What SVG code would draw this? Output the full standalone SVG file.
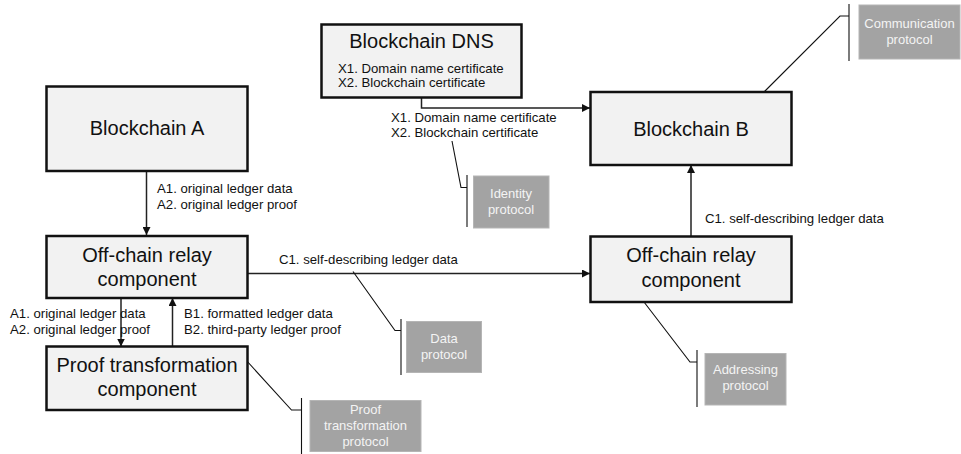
<svg xmlns="http://www.w3.org/2000/svg" width="961" height="454" viewBox="0 0 961 454">
  <defs>
    <marker id="arrow" viewBox="0 0 10 10" refX="10" refY="5" markerWidth="8" markerHeight="8" markerUnits="userSpaceOnUse" orient="auto">
      <path d="M0,0 L10,5 L0,10 Z" fill="#111"/>
    </marker>
    <style>
      .box { fill: #f2f2f2; stroke: #111; stroke-width: 2.5; }
      .proto { fill: #a3a3a3; stroke: #b5b5b5; stroke-width: 1; }
      .title { font-family: "Liberation Sans", Arial, sans-serif; font-size: 20px; fill: #111; text-anchor: middle; }
      .label { font-family: "Liberation Sans", Arial, sans-serif; font-size: 13.2px; fill: #111; }
      .ptext { font-family: "Liberation Sans", Arial, sans-serif; font-size: 13px; fill: #f4f4f4; text-anchor: middle; }
      .flow { fill: none; stroke: #222; stroke-width: 1.5; }
      .lead { fill: none; stroke: #111; stroke-width: 1.1; }
    </style>
  </defs>
  <rect width="961" height="454" fill="#ffffff"/>

  <!-- connectors -->
  <g id="connectors">
    <path class="flow" d="M146.5,171 V235" marker-end="url(#arrow)"/>
    <path class="flow" d="M121,298 V346.5" marker-end="url(#arrow)"/>
    <path class="flow" d="M172.5,346.5 V298" marker-end="url(#arrow)"/>
    <path class="flow" d="M248,273.5 H590" marker-end="url(#arrow)"/>
    <path class="flow" d="M691,236.5 V165" marker-end="url(#arrow)"/>
    <path class="flow" d="M421.5,98 V108 H590" marker-end="url(#arrow)"/>

    <!-- flow labels -->
    <text class="label" x="157" y="193">A1. original ledger data</text>
    <text class="label" x="157" y="209">A2. original ledger proof</text>
    <text class="label" x="10" y="318">A1. original ledger data</text>
    <text class="label" x="10" y="334">A2. original ledger proof</text>
    <text class="label" x="184" y="318">B1. formatted ledger data</text>
    <text class="label" x="184" y="334">B2. third-party ledger proof</text>
    <text class="label" x="279" y="264">C1. self-describing ledger data</text>
    <text class="label" x="705" y="223">C1. self-describing ledger data</text>
    <text class="label" x="391" y="122">X1. Domain name certificate</text>
    <text class="label" x="391" y="137">X2. Blockchain certificate</text>

    <!-- protocol leaders -->
    <path class="lead" d="M764,92 L840,16 H849 M849,4 V61"/>
    <path class="lead" d="M452,141 L461,187.5 H467 M467,175 V227"/>
    <path class="lead" d="M353,271.5 L395,330.5 H401 M401,319 V375"/>
    <path class="lead" d="M644,302 L690,362 H697 M697,350 V407"/>
    <path class="lead" d="M235,348 L291.5,410 H301.5 M301.5,398 V454"/>
  </g>

  <!-- nodes -->
  <g id="blockchain-dns">
    <rect class="box" x="321.5" y="24.5" width="200" height="73"/>
    <text class="title" x="421.5" y="48">Blockchain DNS</text>
    <text class="label" x="338" y="72.5">X1. Domain name certificate</text>
    <text class="label" x="338" y="87">X2. Blockchain certificate</text>
  </g>

  <g id="blockchain-a">
    <rect class="box" x="46.5" y="86.5" width="201" height="84.5"/>
    <text class="title" x="147" y="134.5">Blockchain A</text>
  </g>

  <g id="blockchain-b">
    <rect class="box" x="590.5" y="92" width="201" height="73"/>
    <text class="title" x="691" y="136">Blockchain B</text>
  </g>

  <g id="relay-a">
    <rect class="box" x="46.5" y="236" width="201" height="62"/>
    <text class="title" x="147" y="262">Off-chain relay</text>
    <text class="title" x="147" y="286">component</text>
  </g>

  <g id="relay-b">
    <rect class="box" x="590.5" y="236.5" width="201" height="65.5"/>
    <text class="title" x="691" y="262">Off-chain relay</text>
    <text class="title" x="691" y="287">component</text>
  </g>

  <g id="proof-transformation">
    <rect class="box" x="46.5" y="346.5" width="201" height="63.5"/>
    <text class="title" x="147" y="372">Proof transformation</text>
    <text class="title" x="147" y="396">component</text>
  </g>

  <g id="communication-protocol">
    <rect class="proto" x="859" y="5" width="101" height="54"/>
    <text class="ptext" x="909.5" y="28">Communication</text>
    <text class="ptext" x="909.5" y="44">protocol</text>
  </g>

  <g id="identity-protocol">
    <rect class="proto" x="473.5" y="176" width="75.5" height="52"/>
    <text class="ptext" x="511" y="198">Identity</text>
    <text class="ptext" x="511" y="214">protocol</text>
  </g>

  <g id="data-protocol">
    <rect class="proto" x="406.5" y="321.5" width="75" height="51"/>
    <text class="ptext" x="444" y="343">Data</text>
    <text class="ptext" x="444" y="359">protocol</text>
  </g>

  <g id="addressing-protocol">
    <rect class="proto" x="705" y="353.5" width="81" height="51.5"/>
    <text class="ptext" x="745.5" y="374">Addressing</text>
    <text class="ptext" x="745.5" y="390">protocol</text>
  </g>

  <g id="proof-transformation-protocol">
    <rect class="proto" x="310" y="400.5" width="111" height="51"/>
    <text class="ptext" x="365.5" y="414">Proof</text>
    <text class="ptext" x="365.5" y="430">transformation</text>
    <text class="ptext" x="365.5" y="446">protocol</text>
  </g>
</svg>
